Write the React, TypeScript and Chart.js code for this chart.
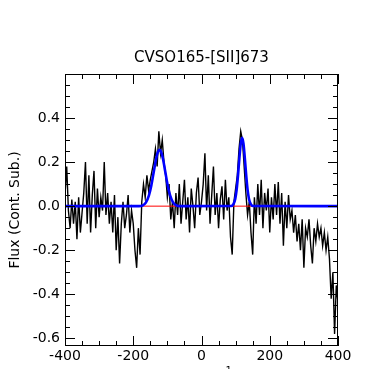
import React, { useEffect, useRef } from 'react';
import { Chart, registerables } from 'chart.js';

Chart.register(...registerables);

const TITLE = 'CVSO165-[SII]673';
const Y_LABEL = 'Flux (Cont. Sub.)';
const X_LABEL_MAIN = 'v (km s';
const X_LABEL_SUP = '\u22121';
const X_LABEL_END = ')';

const X_MIN = -400;
const X_MAX = 400;
const Y_MIN = -0.635;
const Y_MAX = 0.6;

const xTickValues = [-400, -200, 0, 200, 400];
const yTickValues = [-0.6, -0.4, -0.2, 0, 0.2, 0.4];
const xMinorTicks = [-350, -300, -250, -150, -100, -50, 50, 100, 150, 250, 300, 350];
const yMinorTicks = [-0.55, -0.5, -0.45, -0.35, -0.3, -0.25, -0.15, -0.1, -0.05, 0.05, 0.1, 0.15, 0.25, 0.3, 0.35, 0.45, 0.5, 0.55];

// observed spectrum, sampled every 5 km/s from -400 to 400
const VEL_START = -400;
const VEL_STEP = 5;
const flux = [
  0.05, 0.18, -0.02, -0.10, 0.03,
  -0.08, 0.02, -0.15, 0.04, -0.12, -0.03,
  0.06, 0.20, -0.08, 0.14, -0.12, 0.05, 0.16, -0.10, 0.08, -0.05,
  0.04, -0.02, 0.20, -0.04, 0.06, -0.08,
  0.02, -0.12, 0.05, -0.20, -0.05, -0.26,
  -0.08, 0.02, -0.10, -0.04, 0.05, -0.12, -0.02, -0.08,
  -0.20, -0.28, -0.10, -0.22,
  0.02, 0.10, 0.04, 0.14, 0.07, 0.12, 0.16,
  0.20, 0.26, 0.18, 0.34, 0.24, 0.30, 0.20, 0.14,
  0.04, 0.10, -0.06, 0.02, -0.10,
  0.06, -0.04, 0.10, -0.08, 0.02, 0.12, -0.06, 0.04, -0.12, 0.08, 0.00, -0.10, 0.06, 0.13, -0.04, 0.02,
  0.10, 0.24, -0.02, 0.14, -0.08, 0.05, 0.18, -0.04,
  0.06, -0.10, 0.03, 0.09, -0.06, 0.12, -0.02, 0.04, -0.14, -0.22, 0.02,
  0.08, 0.14, 0.26, 0.34, 0.30, 0.18, 0.06, -0.04, 0.02,
  -0.12, -0.22, 0.04, -0.08, 0.10, -0.04, 0.12, -0.10, 0.06, -0.02, 0.08, -0.12, 0.04, -0.06,
  0.10, -0.04, 0.11, -0.08, 0.06, -0.18, 0.02, -0.10, 0.05, -0.06,
  -0.02, -0.12, -0.04, -0.16, -0.08, -0.20, -0.06, -0.28, -0.10, -0.14, -0.06, -0.18, -0.26,
  -0.10, -0.16, -0.08, -0.14, -0.10, -0.18, -0.12, -0.20, -0.14,
  -0.24, -0.42, -0.30, -0.58, -0.36, -0.44,
];
const velocities = flux.map((_, i) => VEL_START + i * VEL_STEP);

// fitted model (two Gaussians)
const fitVel = [
  -400, -183, -173, -163, -154, -147, -140, -133, -127, -123, -119, -113, -106, -99, -92, -83, -73, -63,
  87, 94, 99, 103, 107, 111, 115, 119, 123, 127, 131, 135, 139, 144, 151, 400,
];
const fitFlux = [
  0, 0, 0.003, 0.016, 0.049, 0.094, 0.155, 0.215, 0.249, 0.256, 0.249, 0.215, 0.155, 0.094, 0.049, 0.016, 0.003, 0,
  0.001, 0.01, 0.034, 0.075, 0.14, 0.217, 0.284, 0.31, 0.284, 0.217, 0.14, 0.075, 0.034, 0.01, 0.001, 0,
];

// continuum level
const contVel = [-400, 400];
const contFlux = [0, 0];

const FONT = 'DejaVu Sans';

const framePlugin = {
  id: 'frameTicks',
  afterDatasetsDraw(chart: any) {
    const { ctx, chartArea, scales } = chart;
    const { left, right, top, bottom } = chartArea;
    const x = scales.x;
    const y = scales.y;
    ctx.save();
    ctx.strokeStyle = '#000';
    ctx.lineWidth = 1;
    ctx.beginPath();
    const xt = (v: number, len: number) => {
      const p = Math.round(x.getPixelForValue(v)) + 0.5;
      ctx.moveTo(p, bottom);
      ctx.lineTo(p, bottom - len);
      ctx.moveTo(p, top);
      ctx.lineTo(p, top + len);
    };
    const yt = (v: number, len: number) => {
      const p = Math.round(y.getPixelForValue(v)) + 0.5;
      ctx.moveTo(left, p);
      ctx.lineTo(left + len, p);
      ctx.moveTo(right, p);
      ctx.lineTo(right - len, p);
    };
    xTickValues.forEach((v) => xt(v, 10));
    xMinorTicks.forEach((v) => xt(v, 5));
    yTickValues.forEach((v) => yt(v, 10));
    yMinorTicks.forEach((v) => yt(v, 5));
    ctx.stroke();
    ctx.strokeRect(Math.round(left) + 0.5, Math.round(top) + 0.5, Math.round(right - left) - 1, Math.round(bottom - top) - 1);

    const cx = (left + right) / 2;
    ctx.fillStyle = '#000';

    // title, centred over the plot area
    ctx.textAlign = 'center';
    ctx.textBaseline = 'middle';
    ctx.font = `15px "${FONT}"`;
    ctx.fillText(TITLE, cx, 58.5);

    // x-axis label (mostly below the visible page)
    ctx.textBaseline = 'alphabetic';
    ctx.textAlign = 'left';
    ctx.font = `14px "${FONT}"`;
    const wMain = ctx.measureText(X_LABEL_MAIN).width;
    const wEnd = ctx.measureText(X_LABEL_END).width;
    ctx.font = `10px "${FONT}"`;
    const wSup = ctx.measureText(X_LABEL_SUP).width;
    const total = wMain + wSup + wEnd;
    const x0 = cx - total / 2;
    const baseY = 382;
    ctx.font = `14px "${FONT}"`;
    ctx.fillText(X_LABEL_MAIN, x0, baseY);
    ctx.fillText(X_LABEL_END, x0 + wMain + wSup, baseY);
    ctx.font = `10px "${FONT}"`;
    ctx.fillText(X_LABEL_SUP, x0 + wMain, 373.5);
    ctx.restore();
  },
};

export default function App() {
  const ref = useRef<HTMLCanvasElement | null>(null);

  useEffect(() => {
    if (!ref.current) return;
    Chart.defaults.font.family = FONT;
    Chart.defaults.color = '#000';
    const chart = new Chart(ref.current, {
      type: 'line',
      data: {
        datasets: [
          {
            label: 'fit',
            data: fitVel.map((v, i) => ({ x: v, y: fitFlux[i] })),
            borderColor: '#0000ff',
            borderWidth: 2.6,
            pointRadius: 0,
            cubicInterpolationMode: 'monotone',
            order: 0,
          },
          {
            label: 'continuum',
            data: contVel.map((v, i) => ({ x: v, y: contFlux[i] })),
            borderColor: '#ff0000',
            borderWidth: 1,
            pointRadius: 0,
            order: 1,
          },
          {
            label: 'spectrum',
            data: velocities.map((v, i) => ({ x: v, y: flux[i] })),
            borderColor: '#000000',
            borderWidth: 1.4,
            pointRadius: 0,
            tension: 0,
            order: 2,
          },
        ],
      },
      options: {
        animation: false,
        responsive: true,
        maintainAspectRatio: false,
        layout: { padding: { left: 0, right: 39, top: 74, bottom: 0 } },
        plugins: {
          legend: { display: false },
          tooltip: { enabled: false },
          title: { display: false },
        },
        scales: {
          x: {
            type: 'linear',
            min: X_MIN,
            max: X_MAX,
            grid: { display: false, drawTicks: false },
            border: { display: false },
            afterBuildTicks: (scale: any) => {
              scale.ticks = xTickValues.map((v) => ({ value: v }));
            },
            afterFit: (scale: any) => {
              scale.height = 23;
            },
            ticks: {
              padding: 2,
              maxRotation: 0,
              autoSkip: false,
              font: { family: FONT, size: 14 },
              color: '#000',
              callback: (v: any) => String(v),
            },
          },
          y: {
            type: 'linear',
            min: Y_MIN,
            max: Y_MAX,
            grid: { display: false, drawTicks: false },
            border: { display: false },
            afterBuildTicks: (scale: any) => {
              scale.ticks = yTickValues.map((v) => ({ value: v }));
            },
            afterFit: (scale: any) => {
              scale.width = 65;
            },
            ticks: {
              padding: 5,
              autoSkip: false,
              font: { family: FONT, size: 14 },
              color: '#000',
              callback: (v: any) => Number(v).toFixed(1),
            },
            title: {
              display: true,
              text: Y_LABEL,
              color: '#000',
              font: { family: FONT, size: 14 },
              padding: { top: 6.6, bottom: 0 },
            },
          },
        },
      },
      plugins: [framePlugin],
    } as any);
    return () => chart.destroy();
  }, []);

  return (
    <div style={{ position: 'fixed', left: 0, top: 0, width: 377, height: 369, background: '#fff' }}>
      <canvas ref={ref} />
    </div>
  );
}
